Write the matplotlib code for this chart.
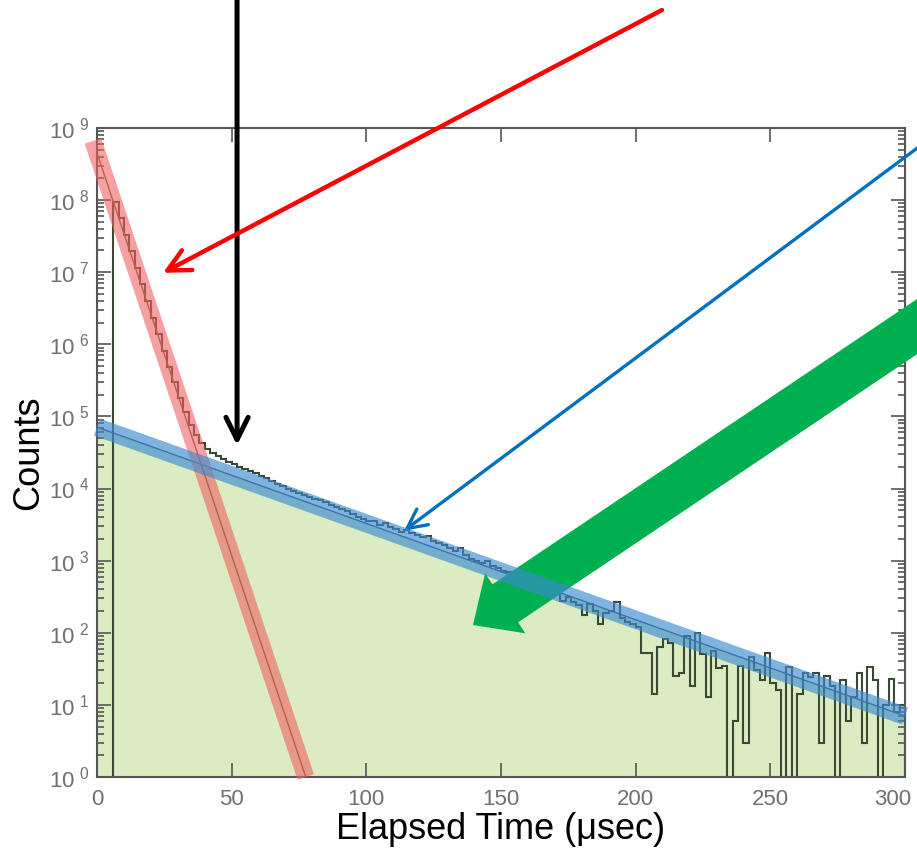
import numpy as np
import matplotlib
matplotlib.use('Agg')
import matplotlib.pyplot as plt
from matplotlib.ticker import FuncFormatter, LogLocator
from matplotlib.transforms import ScaledTranslation

# histogram counts, 2 usec bins starting at 6 usec
bin_start = 6
bin_width = 2
counts = [9.5e7, 5.6e7, 3.3e7, 1.95e7, 1.15e7, 6.8e6, 4.0e6, 2.3e6, 1.4e6, 8.1e5,
          4.9e5, 3.0e5, 1.8e5, 1.15e5, 7.6e4, 5.5e4, 4.3e4, 3.5e4, 3.1e4, 2.8e4,
          2.6e4, 2.35e4, 2.2e4, 2.0e4, 1.86e4, 1.74e4, 1.62e4, 1.51e4, 1.38e4, 1.29e4,
          1.17e4, 1.07e4, 1.0e4, 9300, 8700, 8100, 7600, 7200, 6900, 6500,
          6000, 5600, 5200, 4900, 4500, 4000, 3800, 3600, 3550, 3150,
          3300, 2950, 2750, 2500, 2700, 2400, 2300, 2150, 2200, 1900,
          1780, 1660, 1510, 1380, 1510, 1200, 1050, 1000, 930, 1000,
          830, 790, 720, 690, 630, 550, 525, 480, 420, 380,
          300, 360, 355, 280, 315, 265, 240, 178, 250, 200,
          132, 190, 200, 263, 158, 141, 132, 120, 52, 52,
          14, 63, 83, 71, 25, 28, 89, 18, 100, 50,
          13, 56, 32, 35, 0, 6, 35, 3, 46, 30,
          22, 52, 20, 16, 0, 34, 0, 14, 28, 24,
          28, 3, 25, 18, 0, 22, 6, 13, 28, 3,
          34, 22, 0, 10, 23, 8, 10]

# fitted decay lines (end points)
fast_x = [-1.5, 77.5]
fast_y = [6.6e8, 1.0]
slow_x = [0, 300]
slow_y = [7.1e4, 7.0]

fig = plt.figure(figsize=(9.17, 8.56), dpi=100)
ax = fig.add_axes([0.1058, 0.0923, 0.8811, 0.7582])

edges = bin_start + bin_width * np.arange(len(counts) + 1)
vals = np.maximum(np.array(counts, dtype=float), 0.1)

ax.fill_between(slow_x, slow_y, 0.1, color='#dcecc2', lw=0, zorder=1)
ax.stairs(vals, edges, baseline=0.1, color='#3a4836', lw=1.5, zorder=2)
ax.plot(fast_x, fast_y, color='#6b5a3a', lw=1, zorder=3)
ax.plot(slow_x, slow_y, color='#2b4f70', lw=1, zorder=3)
ax.plot(fast_x, fast_y, color='#f06262', alpha=0.6, lw=12.5,
        solid_capstyle='butt', clip_on=False, zorder=4)
ax.plot(slow_x, slow_y, color='#3d8bd0', alpha=0.65, lw=13,
        solid_capstyle='butt', clip_on=False, zorder=4)

ax.set_yscale('log')
ax.set_xlim(0, 300)
ax.set_ylim(1, 1e9)
ax.set_xticks([0, 50, 100, 150, 200, 250, 300])
ax.yaxis.set_major_locator(LogLocator(base=10, numticks=12))
ax.yaxis.set_minor_locator(LogLocator(base=10, subs=np.arange(2, 10), numticks=12))
ax.yaxis.set_major_formatter(FuncFormatter(lambda v, p: r'$\mathregular{10^{\ %d}}$' % round(np.log10(v))))

ax.tick_params(which='both', direction='in', top=True, right=True, color='#555555', width=1.2)
ax.tick_params(which='major', length=10, labelsize=16, labelcolor='#707070', pad=6,
               labelfontfamily='Liberation Sans')
ax.tick_params(axis='x', pad=9)
ax.tick_params(which='minor', length=5)
for s in ax.spines.values():
    s.set_color('#555555')
    s.set_linewidth(1.5)

# last x label sits a little left so it stays in the picture
lab = ax.get_xticklabels()[-1]
lab.set_transform(lab.get_transform() + ScaledTranslation(-9 / 72, 0, fig.dpi_scale_trans))

ax.set_xlabel('Elapsed Time (μsec)', fontsize=26, family='Liberation Sans', labelpad=1)
ax.set_ylabel('Counts', fontsize=26, family='Liberation Sans', labelpad=2)

# annotation arrows
ax.annotate('', xy=(52, 4.0e4), xytext=(0.2585, 1.01), textcoords='figure fraction',
            arrowprops=dict(arrowstyle='->,head_length=0.8,head_width=0.4', lw=3.6,
                            color='black', shrinkA=0, shrinkB=0, mutation_scale=20))
ax.annotate('', xy=(24.5, 9.8e6), xytext=(0.7219, 0.9883), textcoords='figure fraction',
            arrowprops=dict(arrowstyle='->,head_length=0.8,head_width=0.4', lw=3.2,
                            color='#ff0000', shrinkA=0, shrinkB=0, mutation_scale=20))
ax.annotate('', xy=(114, 2.6e3), xytext=(1.009, 0.834), textcoords='figure fraction',
            arrowprops=dict(arrowstyle='->,head_length=0.7,head_width=0.35', lw=2.4,
                            color='#0070c0', shrinkA=0, shrinkB=0, mutation_scale=20))
ax.annotate('', xy=(139.6, 128), xytext=(1.014, 0.6285), textcoords='figure fraction',
            arrowprops=dict(arrowstyle='simple,head_length=2.8,head_width=5.2,tail_width=3.3',
                            fc='#00b050', ec='none', shrinkA=0, shrinkB=0, mutation_scale=10))

fig.savefig('out.png', dpi=100)
